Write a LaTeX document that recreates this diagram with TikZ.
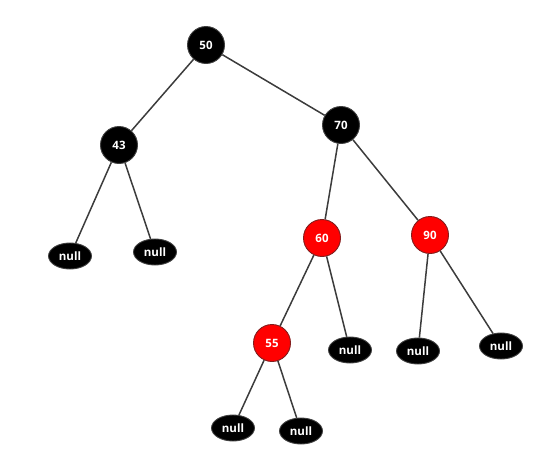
\documentclass[tikz,border=0pt]{standalone}
\usepackage{fontspec}
\setmainfont{Open Sans}
\usetikzlibrary{shapes.geometric}
\definecolor{edgegray}{RGB}{60,60,60}
\definecolor{rdborder}{RGB}{130,30,30}
\begin{document}
\begin{tikzpicture}[x=1pt,y=-1pt,
	blk/.style={circle,fill=black,draw=black!75,line width=.9pt,minimum size=37pt,inner sep=0pt,text=white,font=\bfseries\fontsize{11.5}{11.5}\selectfont},
	rd/.style={blk,fill=red,draw=rdborder},
	nil/.style={ellipse,fill=black,draw=black!75,line width=.9pt,minimum width=43pt,minimum height=26pt,inner sep=0pt,text=white,font=\bfseries\fontsize{11.5}{11.5}\selectfont},
	lnk/.style={draw=edgegray,line width=1.5pt}]
	\useasboundingbox(0,0)rectangle(558,466);
	\node[blk](n50)at(206,45){50};
	\node[blk](n43)at(119,145){43};
	\node[blk](n70)at(341,125){70};
	\node[nil](nl1)at(70,256){null};
	\node[nil](nl2)at(155,252){null};
	\node[rd](n60)at(322,238){60};
	\node[rd](n90)at(430,235){90};
	\node[rd](n55)at(272,343){55};
	\node[nil](nl3)at(350,350){null};
	\node[nil](nl4)at(418,351){null};
	\node[nil](nl5)at(501,346){null};
	\node[nil](nl6)at(233,428){null};
	\node[nil](nl7)at(301,431){null};
	\draw[lnk](n50)--(n43);
	\draw[lnk](n50)--(n70);
	\draw[lnk](n43)--(nl1);
	\draw[lnk](n43)--(nl2);
	\draw[lnk](n70)--(n60);
	\draw[lnk](n70)--(n90);
	\draw[lnk](n60)--(n55);
	\draw[lnk](n60)--(nl3);
	\draw[lnk](n90)--(nl4);
	\draw[lnk](n90)--(nl5);
	\draw[lnk](n55)--(nl6);
	\draw[lnk](n55)--(nl7);
\end{tikzpicture}
\end{document}
